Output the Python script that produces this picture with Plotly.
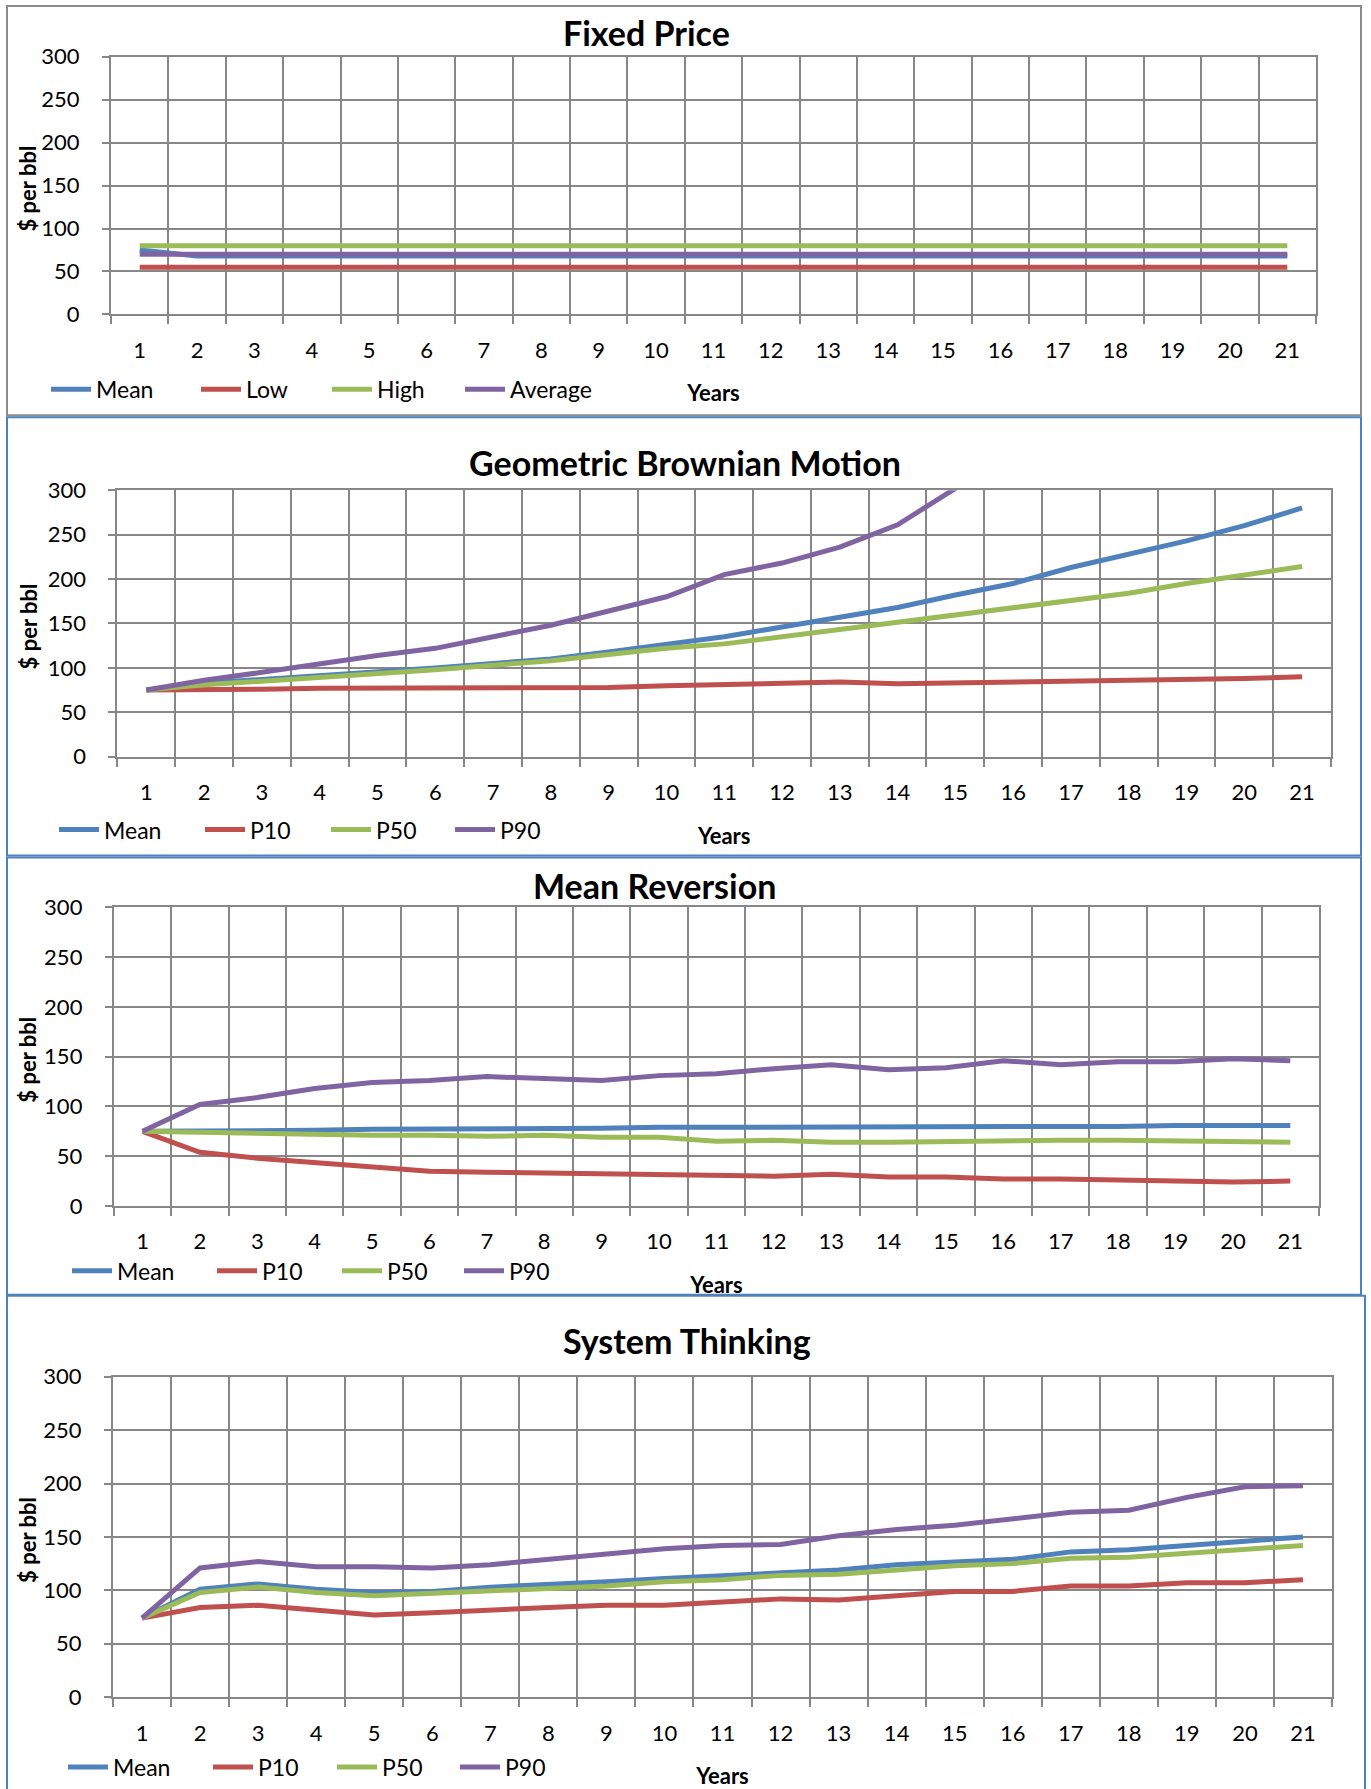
import plotly.graph_objects as go

W, H = 1371, 1789

years = [str(i) for i in range(1, 22)]

# ---- Fixed Price ----
fixed_mean = [75, 68, 68, 68, 68, 68, 68, 68, 68, 68, 68, 68, 68, 68, 68, 68, 68, 68, 68, 68, 68]
fixed_low = [55, 55, 55, 55, 55, 55, 55, 55, 55, 55, 55, 55, 55, 55, 55, 55, 55, 55, 55, 55, 55]
fixed_high = [80, 80, 80, 80, 80, 80, 80, 80, 80, 80, 80, 80, 80, 80, 80, 80, 80, 80, 80, 80, 80]
fixed_avg = [70, 70, 70, 70, 70, 70, 70, 70, 70, 70, 70, 70, 70, 70, 70, 70, 70, 70, 70, 70, 70]

# ---- Geometric Brownian Motion ----
gbm_mean = [75, 83, 87, 91, 95, 100, 105, 110, 118, 126, 135, 146, 157, 168, 182, 195, 213, 228, 243, 260, 280]
gbm_p10 = [75, 75, 76, 77, 77, 78, 78, 78, 78, 80, 81, 82, 84, 82, 83, 84, 85, 86, 86, 88, 90]
gbm_p50 = [75, 81, 85, 89, 93, 98, 103, 108, 115, 122, 127, 135, 143, 151, 160, 167, 176, 184, 195, 204, 214]
gbm_p90 = [75, 86, 95, 105, 114, 122, 135, 148, 164, 180, 205, 218, 236, 261, 302, 340, 378, 418, 460, 505, 555]

# ---- Mean Reversion ----
mr_mean = [75, 75, 76, 76, 77, 77, 78, 78, 78, 79, 79, 80, 79, 79, 79, 79, 79, 80, 81, 81, 81]
mr_p10 = [75, 54, 48, 44, 40, 35, 34, 33, 33, 31, 31, 30, 32, 29, 29, 27, 27, 26, 26, 24, 25]
mr_p50 = [75, 74, 72, 71, 71, 71, 70, 71, 69, 69, 65, 66, 64, 64, 65, 65, 66, 66, 65, 65, 64]
mr_p90 = [75, 102, 109, 118, 124, 126, 130, 128, 126, 131, 133, 138, 142, 137, 139, 146, 142, 145, 145, 148, 146]

# ---- System Thinking ----
st_mean = [74, 101, 106, 101, 98, 99, 103, 105, 108, 111, 114, 117, 119, 124, 127, 129, 136, 138, 142, 146, 150]
st_p10 = [74, 84, 86, 82, 77, 79, 82, 84, 86, 86, 89, 92, 91, 95, 99, 99, 104, 104, 107, 107, 110]
st_p50 = [74, 98, 103, 98, 95, 97, 100, 101, 104, 108, 110, 114, 115, 119, 123, 125, 130, 131, 135, 138, 142]
st_p90 = [74, 121, 127, 122, 122, 121, 124, 129, 134, 139, 142, 143, 151, 157, 161, 167, 173, 175, 187, 197, 198]

y_ticks = [0, 50, 100, 150, 200, 250, 300]

COLORS = ["#4F81BD", "#C0504D", "#9BBB59", "#8064A2"]
GRID = "#878787"
FONT = "Lato, 'Open Sans', sans-serif"

panels = [
    dict(title="Fixed Price", names=["Mean", "Low", "High", "Average"],
         series=[fixed_mean, fixed_low, fixed_high, fixed_avg],
         widths=[95, 76, 78, 90],
         plot=(111, 1316, 56.7, 315), border=(7, 1361, 6, 416), bcol="#8C8C8C",
         title_xy=(646, 33), legend_xy=(46, 390)),
    dict(title="Geometric Brownian Motion", names=["Mean", "P10", "P50", "P90"],
         series=[gbm_mean, gbm_p10, gbm_p50, gbm_p90],
         widths=[91, 71, 69, 70],
         plot=(117.4, 1331, 491, 758), border=(7, 1361, 418, 857), bcol="#4F81BD",
         title_xy=(685, 463), legend_xy=(54, 831)),
    dict(title="Mean Reversion", names=["Mean", "P10", "P50", "P90"],
         series=[mr_mean, mr_p10, mr_p50, mr_p90],
         widths=[90, 70, 67, 70],
         plot=(113.8, 1319, 909, 1208), border=(7, 1361, 859, 1297), bcol="#4F81BD",
         title_xy=(654, 887), legend_xy=(67, 1273)),
    dict(title="System Thinking", names=["Mean", "P10", "P50", "P90"],
         series=[st_mean, st_p10, st_p50, st_p90],
         widths=[90, 69, 68, 70],
         plot=(113, 1332, 1379, 1700), border=(7, 1365, 1298, 1800), bcol="#4F81BD",
         title_xy=(687, 1343), legend_xy=(63, 1770)),
]

fig = go.Figure()
layout = dict(width=W, height=H, margin=dict(l=0, r=0, t=0, b=0),
              template="none", paper_bgcolor="white", plot_bgcolor="white",
              font=dict(family=FONT, color="black"), showlegend=True,
              annotations=[], shapes=[])

for i, p in enumerate(panels):
    k = "" if i == 0 else str(i + 1)
    xa, ya = "x" + k, "y" + k
    leg = "legend" + k
    for name, vals, col, lw in zip(p["names"], p["series"], COLORS, p["widths"]):
        fig.add_trace(go.Scatter(x=years, y=vals, name=name, mode="lines",
                                 line=dict(color=col, width=5),
                                 xaxis=xa, yaxis=ya, legend=leg, legendwidth=lw))
    L, R, T, B = p["plot"]
    layout["xaxis" + k] = dict(
        domain=[L / W, R / W], anchor=ya, type="category", range=[-0.5, 20.5],
        tickson="boundaries", showgrid=True, gridcolor=GRID, gridwidth=2,
        ticks="outside", ticklen=8, tickwidth=2, tickcolor=GRID,
        showline=True, mirror=True, linecolor=GRID, linewidth=2,
        tickfont=dict(size=22, family=FONT, color="black"), ticklabelstandoff=15,
        automargin=False, zeroline=False,
        title=dict(text="<b>Years</b>", font=dict(size=22, family=FONT, color="black"),
                   standoff=24),
    )
    layout["yaxis" + k] = dict(
        domain=[1 - B / H, 1 - T / H], anchor=xa, range=[0, 300],
        tickvals=y_ticks, showgrid=True, gridcolor=GRID, gridwidth=2,
        ticks="outside", ticklen=7, tickwidth=2, tickcolor=GRID,
        showline=True, mirror=True, linecolor=GRID, linewidth=2,
        tickfont=dict(size=22, family=FONT, color="black"), ticklabelstandoff=18,
        automargin=False, zeroline=False,
    )
    # y-axis title
    layout["annotations"].append(dict(
        text="<b>$ per bbl</b>", x=28 / W, y=1 - ((T + B) / 2 + 3) / H, xref="paper", yref="paper",
        xanchor="center", yanchor="middle", textangle=-90, showarrow=False,
        font=dict(size=22, family=FONT, color="black")))
    lx, ly = p["legend_xy"]
    layout[leg] = dict(
        orientation="h", x=lx / W, y=1 - ly / H, xanchor="left",
        yanchor="middle", xref="paper", yref="paper",
        font=dict(size=23, family=FONT, color="black"),
        bgcolor="rgba(0,0,0,0)", itemwidth=40, tracegroupgap=0,
    )
    tx, ty = p["title_xy"]
    layout["annotations"].append(dict(
        text="<b>" + p["title"] + "</b>", x=tx / W, y=1 - ty / H, xref="paper", yref="paper",
        xanchor="center", yanchor="middle", showarrow=False,
        font=dict(size=34, family=FONT, color="black")))
    bx0, bx1, by0, by1 = p["border"]
    layout["shapes"].append(dict(
        type="rect", xref="paper", yref="paper", x0=bx0 / W, x1=bx1 / W,
        y0=1 - by1 / H, y1=1 - by0 / H, line=dict(color=p["bcol"], width=2),
        fillcolor="rgba(0,0,0,0)", layer="below"))

fig.update_layout(**layout)

fig.write_html("out.html", config={"displayModeBar": False},
               post_script="document.body.style.margin='0';document.body.style.overflow='hidden';")
